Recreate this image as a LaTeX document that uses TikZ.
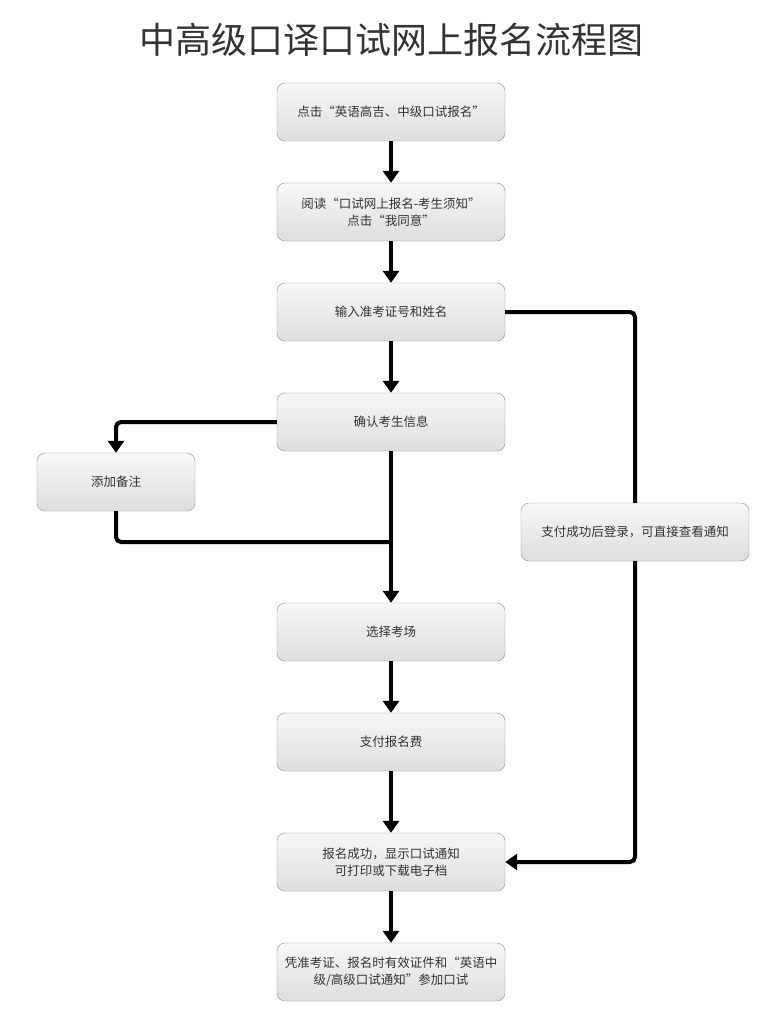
\documentclass[tikz,border=0pt]{standalone}
\usepackage{fontspec}
\newfontfamily\cjk{Noto Sans CJK SC}
\usetikzlibrary{arrows.meta}

\begin{document}
\begin{tikzpicture}[
			x=1pt, y=-1pt,
			>={Triangle[width=16pt,length=12pt]},
			every node/.style = {font=\cjk\fontsize{12.5}{17}\selectfont, text=black!80},
			box/.style        = {draw=black!45, rounded corners=8pt, top color=black!3,
			                     bottom color=black!13, minimum width=228pt,
			                     minimum height=58pt, align=center, inner sep=0pt},
			link/.style       = {line width=4pt, rounded corners=5pt}
			]
			\useasboundingbox (0,0) rectangle (759,1011);
			%--- title ---
			\node (title) at (391,40) {\fontsize{36}{40}\selectfont 中高级口译口试网上报名流程图};
			
			%--- nodes and their positions ---
			\node[box] (click)   at (391,112) {点击“英语高吉、中级口试报名”};
			\node[box] (read)    at (391,212) {阅读“口试网上报名-考生须知”\\点击“我同意”};
			\node[box] (input)   at (391,312) {输入准考证号和姓名};
			\node[box] (confirm) at (391,422) {确认考生信息};
			\node[box, minimum width=158pt] (note) at (116,482) {添加备注};
			\node[box] (login)   at (635,532) {支付成功后登录，可直接查看通知};
			\node[box] (site)    at (391,632) {选择考场};
			\node[box] (pay)     at (391,742) {支付报名费};
			\node[box] (done)    at (391,862) {报名成功，显示口试通知\\可打印或下载电子档};
			\node[box] (exam)    at (391,972) {凭准考证、报名时有效证件和“英语中\\级/高级口试通知”参加口试};
			
			\coordinate (merge) at (391,542);
			
			%--- main flow (arrows) ---
			\draw[link,->] (click) -- (read);
			\draw[link,->] (read) -- (input);
			\draw[link,->] (input) -- (confirm);
			\draw[link,->] (confirm) -- (site);
			\draw[link,->] (site) -- (pay);
			\draw[link,->] (pay) -- (done);
			\draw[link,->] (done) -- (exam);
			
			%--- side branches ---
			\draw[link,->] (confirm.west) -| (note.north);
			\draw[link] (note.south) |- (merge);
			\draw[link] (input.east) -| (login.north);
			\draw[link,->] (login.south) |- (done.east);
		\end{tikzpicture}
\end{document}
